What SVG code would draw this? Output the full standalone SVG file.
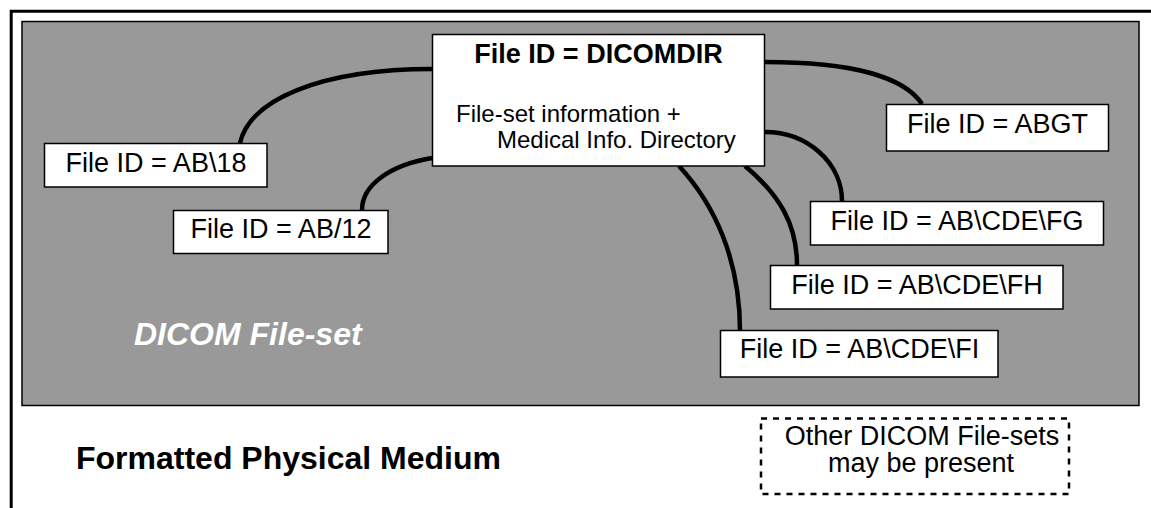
<svg xmlns="http://www.w3.org/2000/svg" width="1151" height="508" viewBox="0 0 1151 508">
  <style>
    .box { fill: #ffffff; stroke: #000000; stroke-width: 1.5; }
    .lbl { font-family: "Liberation Sans", Arial, sans-serif; font-size: 27px; fill: #000000; text-anchor: middle; }
    .conn { fill: none; stroke: #000000; stroke-width: 4.5; }
  </style>
  <rect x="0" y="0" width="1151" height="508" fill="#ffffff"/>
  <g id="medium">
    <path d="M11.2,508 V11.2 H1151" fill="none" stroke="#000000" stroke-width="3"/>
    <text x="76" y="469" font-family="Liberation Sans, Arial, sans-serif" font-size="32" font-weight="bold" fill="#000000">Formatted Physical Medium</text>
  </g>
  <g id="fileset">
    <rect x="22" y="21.5" width="1117" height="384" fill="#999999" stroke="#000000" stroke-width="1.5"/>
    <text x="134" y="345" font-family="Liberation Sans, Arial, sans-serif" font-size="32" font-weight="bold" font-style="italic" fill="#ffffff">DICOM File-set</text>
  </g>
  <g id="connectors">
    <path class="conn" d="M432,69 C320,69 250,100 240,143"/>
    <path class="conn" d="M432,158 C390,165 362,185 362,210"/>
    <path class="conn" d="M765,62 C855,62 905,78 922,104"/>
    <path class="conn" d="M765,132 A77,69 0 0 1 842,201"/>
    <path class="conn" d="M745,166 C780,195 797,225 797,265"/>
    <path class="conn" d="M679,166 C715,205 740,260 740,331"/>
  </g>
  <g id="dicomdir">
    <rect class="box" x="432.5" y="34.5" width="332" height="131.5"/>
    <text x="598.5" y="63" font-family="Liberation Sans, Arial, sans-serif" font-size="27" font-weight="bold" text-anchor="middle" fill="#000000">File ID = DICOMDIR</text>
    <text x="456" y="122" font-family="Liberation Sans, Arial, sans-serif" font-size="24" fill="#000000">File-set information +</text>
    <text x="497" y="148" font-family="Liberation Sans, Arial, sans-serif" font-size="24" fill="#000000">Medical Info. Directory</text>
  </g>
  <g id="ab18">
    <rect class="box" x="44.5" y="143.5" width="222.5" height="43.5"/>
    <text class="lbl" x="156" y="172">File ID = AB\18</text>
  </g>
  <g id="ab12">
    <rect class="box" x="173.5" y="210.5" width="214.5" height="43"/>
    <text class="lbl" x="281" y="238">File ID = AB/12</text>
  </g>
  <g id="abgt">
    <rect class="box" x="886.5" y="104.5" width="222" height="46.5"/>
    <text class="lbl" x="997.5" y="133">File ID = ABGT</text>
  </g>
  <g id="abcdefg">
    <rect class="box" x="810.5" y="201.5" width="293" height="43.5"/>
    <text class="lbl" x="957" y="229.5">File ID = AB\CDE\FG</text>
  </g>
  <g id="abcdefh">
    <rect class="box" x="770.5" y="265.5" width="292.5" height="43.5"/>
    <text class="lbl" x="917" y="293.5">File ID = AB\CDE\FH</text>
  </g>
  <g id="abcdefi">
    <rect class="box" x="720.5" y="330.5" width="277.5" height="46.5"/>
    <text class="lbl" x="859.5" y="357.5">File ID = AB\CDE\FI</text>
  </g>
  <g id="others">
    <rect x="761" y="418.5" width="308" height="75.5" fill="none" stroke="#000000" stroke-width="2.5" stroke-dasharray="6 6"/>
    <text class="lbl" x="922" y="445">Other DICOM File-sets</text>
    <text class="lbl" x="921" y="472">may be present</text>
  </g>
</svg>
